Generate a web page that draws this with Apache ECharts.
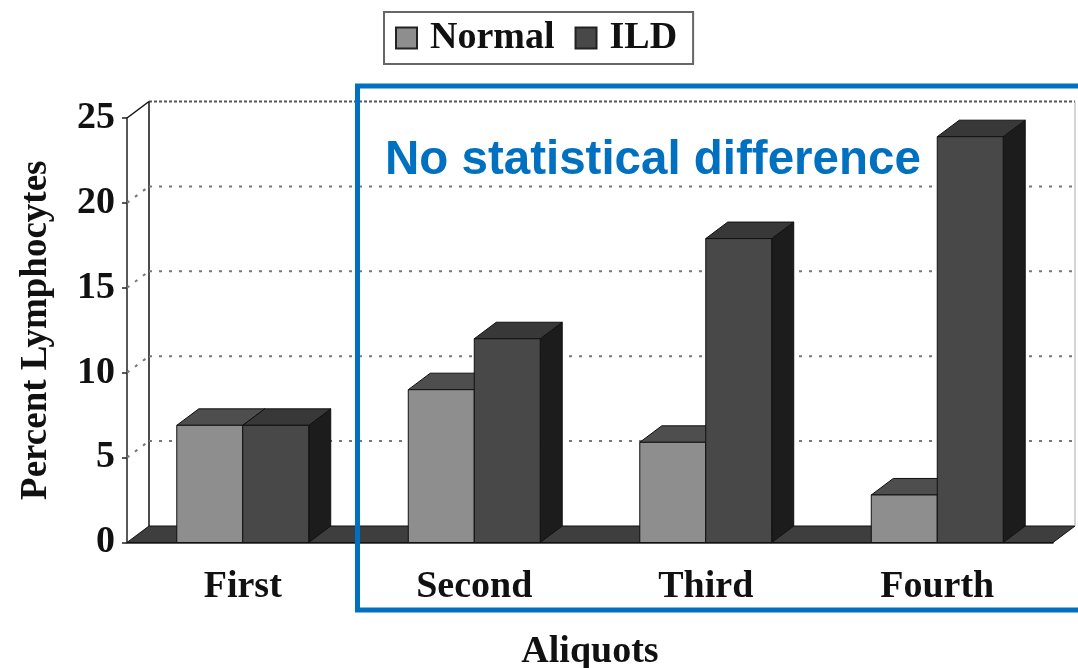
<!DOCTYPE html>
<html>
<head>
<meta charset="utf-8">
<title>Percent Lymphocytes by Aliquot</title>
<script src="https://cdn.jsdelivr.net/npm/echarts@6/dist/echarts.min.js"></script>
<style>
  html, body { margin: 0; padding: 0; background: #ffffff; }
  #chart { width: 1078px; height: 668px; }
</style>
</head>
<body>
<div id="chart"></div>
<script>
// Aliquot categories and lymphocyte percentages per group
const categories = ['First', 'Second', 'Third', 'Fourth'];
const normalValues = [6.9, 9.0, 5.9, 2.8];
const ildValues = [6.9, 12.0, 17.9, 23.9];

// Value axis range and tick step
const yMin = 0;
const yMax = 25;
const yStep = 5;
const gridValues = [5, 10, 15, 20];

// Oblique projection offset for the pseudo-3D look
const DX = 22;
const DY = -16.5;
const BAR_FRACTION = 0.285;

const serif = '"Liberation Serif", "Times New Roman", serif';

const COLORS = {
  normal: { front: '#8e8e8e', top: '#4e4e4e', side: '#2a2a2a' },
  ild: { front: '#484848', top: '#383838', side: '#1c1c1c' },
  floor: '#3e3e3e'
};

function poly(points, fill) {
  return {
    type: 'polygon',
    shape: { points: points },
    style: { fill: fill, stroke: '#111', lineWidth: 1 }
  };
}

function makeBarRenderer(palette, side) {
  return function (params, api) {
    const idx = api.value(0);
    const val = api.value(1);
    const base = api.coord([idx, 0]);
    const top = api.coord([idx, val]);
    const w = api.size([1, 0])[0] * BAR_FRACTION;
    const x0 = side < 0 ? base[0] - w : base[0];
    const x1 = x0 + w;
    const yb = base[1];
    const yt = top[1];
    return {
      type: 'group',
      children: [
        // right side face
        poly([[x1, yb], [x1 + DX, yb + DY], [x1 + DX, yt + DY], [x1, yt]], palette.side),
        // top face
        poly([[x0, yt], [x1, yt], [x1 + DX, yt + DY], [x0 + DX, yt + DY]], palette.top),
        // front face
        poly([[x0, yb], [x1, yb], [x1, yt], [x0, yt]], palette.front)
      ]
    };
  };
}

// Back wall, side wall and floor of the plot box
function renderFrame(params, api) {
  const cs = params.coordSys;
  const x = cs.x, y = cs.y, w = cs.width, h = cs.height;
  const yb = y + h;
  return {
    type: 'group',
    children: [
      poly([[x, yb], [x + w, yb], [x + w + DX, yb + DY], [x + DX, yb + DY]], COLORS.floor),
      {
        type: 'line',
        shape: { x1: x + DX, y1: y + DY, x2: x + w + DX, y2: y + DY },
        style: { stroke: '#555', lineWidth: 2, lineDash: [3, 2] }
      },
      {
        type: 'line',
        shape: { x1: x + w + DX, y1: y + DY, x2: x + w + DX, y2: yb + DY },
        style: { stroke: '#aaa', lineWidth: 1 }
      },
      {
        type: 'line',
        shape: { x1: x + DX, y1: y + DY, x2: x + DX, y2: yb + DY },
        style: { stroke: '#111', lineWidth: 1.5 }
      },
      {
        type: 'line',
        shape: { x1: x, y1: y, x2: x + DX, y2: y + DY },
        style: { stroke: '#111', lineWidth: 1.5 }
      }
    ]
  };
}

// Dotted gridlines running across the side and back walls
function renderGridline(params, api) {
  const cs = params.coordSys;
  const yy = api.coord([0, api.value(1)])[1];
  const dotted = { stroke: '#777', lineWidth: 2, lineDash: [3, 7] };
  return {
    type: 'group',
    children: [
      { type: 'line', shape: { x1: cs.x, y1: yy, x2: cs.x + DX, y2: yy + DY }, style: dotted },
      { type: 'line', shape: { x1: cs.x + DX, y1: yy + DY, x2: cs.x + cs.width + DX, y2: yy + DY }, style: dotted }
    ]
  };
}

const chart = echarts.init(document.getElementById('chart'), null, { renderer: 'canvas' });

chart.setOption({
  animation: false,
  backgroundColor: '#ffffff',
  grid: {
    left: 127, right: 25, top: 118, bottom: 125.5,
    containLabel: false,
    outerBoundsMode: 'none'
  },
  legend: {
    data: ['Normal', 'ILD'],
    left: 384,
    top: 12,
    icon: 'rect',
    itemWidth: 21,
    itemHeight: 21,
    itemGap: 20,
    padding: [7, 16, 7, 11],
    borderColor: '#666',
    borderWidth: 2,
    textStyle: {
      fontFamily: serif,
      fontWeight: 'bold',
      fontSize: 38,
      color: '#111',
      padding: [0, 0, 0, 8]
    }
  },
  xAxis: {
    type: 'category',
    data: categories,
    name: 'Aliquots',
    nameLocation: 'middle',
    nameGap: 91,
    nameTextStyle: { fontFamily: serif, fontWeight: 'bold', fontSize: 38, color: '#111' },
    axisLine: { lineStyle: { color: '#222', width: 1.5 } },
    axisTick: { length: 7, lineStyle: { color: '#222', width: 1.5 } },
    axisLabel: { fontFamily: serif, fontWeight: 'bold', fontSize: 38, color: '#111', margin: 26 },
    splitLine: { show: false }
  },
  yAxis: {
    type: 'value',
    min: yMin,
    max: yMax,
    interval: yStep,
    name: 'Percent Lymphocytes',
    nameLocation: 'middle',
    nameRotate: 90,
    nameGap: 72,
    nameTextStyle: { fontFamily: serif, fontWeight: 'bold', fontSize: 37, color: '#111' },
    axisLine: { show: true, lineStyle: { color: '#222', width: 1.5 } },
    axisTick: { show: true, length: 5, lineStyle: { color: '#222', width: 1.5 } },
    axisLabel: { fontFamily: serif, fontWeight: 'bold', fontSize: 38, color: '#111', margin: 12 },
    splitLine: { show: false }
  },
  series: [
    {
      name: 'frame',
      type: 'custom',
      z: 1,
      silent: true,
      clip: false,
      renderItem: renderFrame,
      data: [[0, 0]]
    },
    {
      name: 'gridlines',
      type: 'custom',
      z: 1,
      silent: true,
      clip: false,
      renderItem: renderGridline,
      data: gridValues.map(function (v) { return [0, v]; })
    },
    {
      name: 'Normal',
      type: 'custom',
      z: 2,
      clip: false,
      itemStyle: { color: COLORS.normal.front, borderColor: '#222', borderWidth: 1 },
      renderItem: makeBarRenderer(COLORS.normal, -1),
      encode: { x: 0, y: 1 },
      data: normalValues.map(function (v, i) { return [i, v]; })
    },
    {
      name: 'ILD',
      type: 'custom',
      z: 3,
      clip: false,
      itemStyle: { color: COLORS.ild.front, borderColor: '#222', borderWidth: 1 },
      renderItem: makeBarRenderer(COLORS.ild, 1),
      encode: { x: 0, y: 1 },
      data: ildValues.map(function (v, i) { return [i, v]; })
    }
  ],
  graphic: [
    {
      type: 'rect',
      z: 100,
      shape: { x: 357.5, y: 86, width: 760, height: 524 },
      style: { fill: null, stroke: '#0070c0', lineWidth: 5 }
    },
    {
      type: 'text',
      z: 100,
      x: 385,
      y: 161,
      style: {
        text: 'No statistical difference',
        fill: '#0070c0',
        font: 'bold 47.5px "Liberation Sans", Arial, sans-serif',
        verticalAlign: 'middle',
        align: 'left'
      }
    }
  ]
});
</script>
</body>
</html>
